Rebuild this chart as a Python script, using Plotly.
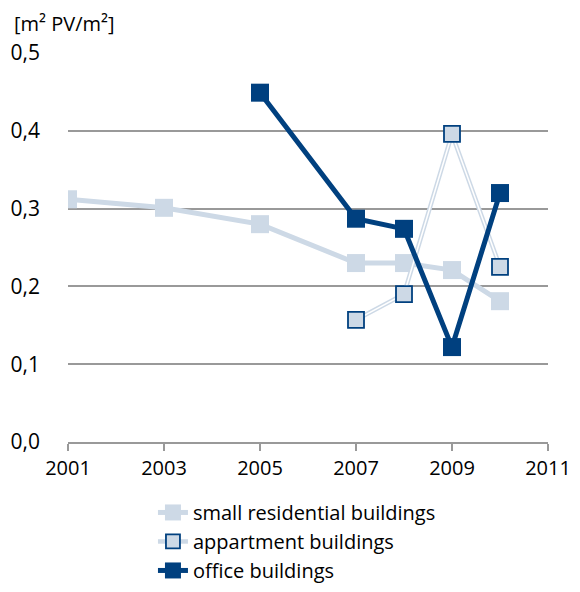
import plotly.graph_objects as go

years_small = [2001, 2003, 2005, 2007, 2008, 2009, 2010]
small_residential = [0.312, 0.301, 0.280, 0.230, 0.230, 0.221, 0.181]

years_apt = [2007, 2008, 2009, 2010]
apartment = [0.157, 0.190, 0.396, 0.225]

years_office = [2005, 2007, 2008, 2009, 2010]
office = [0.449, 0.287, 0.274, 0.122, 0.320]

x_ticks = [2001, 2003, 2005, 2007, 2009, 2011]
y_ticks = [0.0, 0.1, 0.2, 0.3, 0.4, 0.5]

LIGHT = "#cdd9e6"
DARK = "#00407f"
FONT = "Open Sans"

fig = go.Figure()

fig.add_trace(go.Scatter(
    x=years_small, y=small_residential, mode="lines+markers",
    name="small residential buildings",
    line=dict(color=LIGHT, width=5),
    marker=dict(symbol="square", size=18, color=LIGHT),
))

# apartment double line: light outer, white inner
fig.add_trace(go.Scatter(
    x=years_apt, y=apartment, mode="lines",
    line=dict(color=LIGHT, width=4.5), showlegend=False, hoverinfo="skip",
))
fig.add_trace(go.Scatter(
    x=years_apt, y=apartment, mode="lines",
    line=dict(color="white", width=1.5), showlegend=False, hoverinfo="skip",
))
fig.add_trace(go.Scatter(
    x=years_apt, y=apartment, mode="markers",
    name="appartment buildings",
    marker=dict(symbol="square", size=16, color=LIGHT, line=dict(color=DARK, width=1.8)),
    showlegend=False,
))
# legend entry for apartment
fig.add_trace(go.Scatter(
    x=[None], y=[None], mode="lines+markers",
    name="appartment buildings",
    line=dict(color=LIGHT, width=4.5),
    marker=dict(symbol="square", size=14, color=LIGHT, line=dict(color=DARK, width=1.8)),
))

fig.add_trace(go.Scatter(
    x=years_office, y=office, mode="lines+markers",
    name="office buildings",
    line=dict(color=DARK, width=5),
    marker=dict(symbol="square", size=18, color=DARK),
))

fig.update_layout(
    width=564, height=576,
    margin=dict(l=60, r=24, t=45, b=142, autoexpand=False),
    paper_bgcolor="white", plot_bgcolor="white",
    separators=", ",
    font=dict(family=FONT, size=20, color="#000000"),
    showlegend=True,
    legend=dict(
        orientation="v", x=0.177, y=-0.131, xanchor="left", yanchor="top",
        font=dict(family=FONT, size=20, color="#000000"),
        tracegroupgap=0, itemsizing="trace",
        bgcolor="rgba(0,0,0,0)",
    ),
    annotations=[dict(
        text="[m² PV/m²]", x=0, y=1, xref="paper", yref="paper",
        xshift=-56, yshift=45, xanchor="left", yanchor="top", showarrow=False,
        font=dict(family=FONT, size=20, color="#000000"),
    )],
)

fig.update_xaxes(
    range=[2001, 2011], tickvals=x_ticks, ticktext=[str(v) for v in x_ticks],
    showgrid=False, showline=True, linecolor="#999999", linewidth=2,
    ticks="outside", ticklen=7, tickwidth=2, tickcolor="#999999",
    tickfont=dict(family=FONT, size=20), zeroline=False, automargin=False,
    ticklabeloverflow="allow",
)
fig.update_yaxes(
    range=[0, 0.5], tickvals=y_ticks, tickformat=".1f",
    showgrid=True, gridcolor="#999999", gridwidth=2,
    showline=False, zeroline=False, ticks="", ticklabelstandoff=27,
    tickfont=dict(family=FONT, size=21), automargin=False,
)

fig.write_html("out.html")
